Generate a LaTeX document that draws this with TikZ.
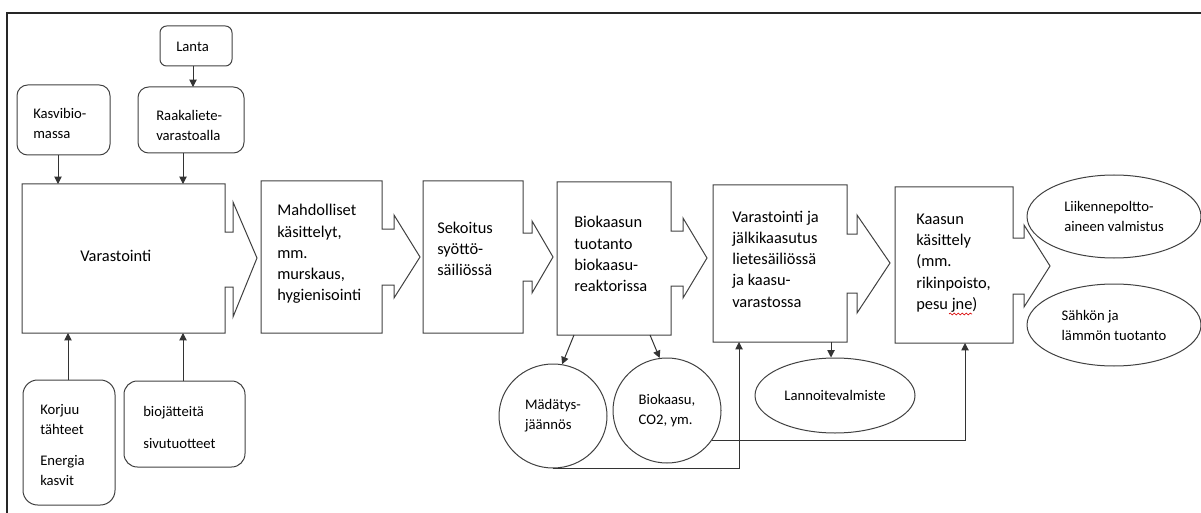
\documentclass[tikz,border=0pt]{standalone}
\usepackage{fontspec}
\setmainfont{Carlito}
\usetikzlibrary{arrows.meta,fit,shapes.geometric,decorations.pathmorphing}
\tikzset{
  lc/.style={draw=black!75, line width=0.75pt},
  area/.style={inner sep=0pt, outer sep=0pt},
  rbox/.style={area, lc, rounded corners=#1},
  ell/.style={ellipse, lc, inner sep=0pt, align=left, font=\smallfont},
  maintxt/.style={anchor=west, align=left, inner sep=0pt, font=\mainfont},
  smalltxt/.style={anchor=west, align=left, inner sep=0pt, font=\smallfont},
  arr/.style={draw=black!80, line width=0.75pt, -{Triangle[width=5.5pt,length=5.5pt]}},
}
\newcommand\mainfont{\fontsize{12.3pt}{15.9pt}\selectfont}
\newcommand\smallfont{\fontsize{11pt}{15pt}\selectfont}
% name, neck top y, neck bottom y, head x, head top y, head bottom y, tip x, tip y
\newcommand\callbox[8]{\draw[lc, line join=miter] (#1.north west) -- (#1.north east) -- (#1.east |- 0,#2) -- (#4,#2) -- (#4,#5) -- (#7,#8) -- (#4,#6) -- (#4,#3) -- (#1.east |- 0,#3) -- (#1.south east) -- (#1.south west) -- cycle;}
\begin{document}
\begin{tikzpicture}[x=0.75pt, y=-0.75pt]
\useasboundingbox (0,0) rectangle (1201,513);
% frame
\draw[black!85, line width=1.1pt] (7,520) -- (7,13) -- (1210,13);

% rounded input boxes
\node[rbox=5pt, fit={(160,26)(232,66)}] (lanta) {};
\node[smalltxt] (lantat) at (176,47) {Lanta};
\node[rbox=8pt, fit={(17,85)(110,155)}] (kasvi) {};
\node[smalltxt] (kasvit) at (33,123) {Kasvibio-\\massa};
\node[rbox=8pt, fit={(138,87)(244,153)}] (raaka) {};
\node[smalltxt] (raakat) at (156,125) {Raakaliete-\\varastoalla};
\node[rbox=11pt, fit={(23,380)(115,505)}] (korjuu) {};
\node[smalltxt] (korjuut) at (40,445) {Korjuu\\tähteet\\[8.5pt]Energia\\kasvit};
\node[rbox=10pt, fit={(124,381)(245,467)}] (bioj) {};
\node[smalltxt] (biojt) at (143,427) {biojätteitä\\[9pt]sivutuotteet};

% process boxes (callout arrows)
\node[area, fit={(22,184)(225,333)}] (var) {};
\callbox{var}{232}{287}{233}{202}{317}{257}{258}
\node[maintxt] (vart) at (80,256) {Varastointi};

\node[area, fit={(261,181)(382,333)}] (mah) {};
\callbox{mah}{229}{285}{394}{215}{298}{420}{257}
\node[maintxt] (maht) at (277,254) {Mahdolliset\\käsittelyt,\\mm.\\murskaus,\\hygienisointi};

\node[area, fit={(423,181)(523,333)}] (sek) {};
\callbox{sek}{233}{281}{532}{221}{293}{553}{257}
\node[maintxt] (sekt) at (437,249) {Sekoitus\\syöttö-\\säiliössä};

\node[area, fit={(557,182)(671,335)}] (bk) {};
\callbox{bk}{231}{286}{683}{218}{298}{707}{258}
\node[maintxt] (bkt) at (574,254) {Biokaasun\\tuotanto\\biokaasu-\\reaktorissa};

\node[area, fit={(713,185)(847,342)}] (varj) {};
\callbox{varj}{234}{293}{857}{215}{313}{890}{263}
\node[maintxt] (varjt) at (732,259) {Varastointi ja\\jälkikaasutus\\lietesäiliössä\\ja kaasu-\\varastossa};

\node[area, fit={(895,187)(1013,343)}] (kaa) {};
\callbox{kaa}{238}{294}{1024}{225}{307}{1050}{266}
\node[maintxt] (kaat) at (916,263) {Kaasun\\käsittely\\(mm.\\rikinpoisto,\\pesu jne)};
\draw[red!85!black, line width=0.5pt, decorate, decoration={snake, amplitude=0.7pt, segment length=3pt}] (949,314) -- (972,314);

% ellipses / circles
\node[ell, minimum width=81pt, minimum height=78pt] (mad) at (553,416) {Mädätys-\\jäännös};
\node[ell, minimum width=81pt, minimum height=78.75pt] (biok) at (667,410.5) {Biokaasu,\\CO2, ym.};
\node[ell, minimum width=120pt, minimum height=56.25pt] (lann) at (835,395.5) {Lannoitevalmiste};
\node[ell, minimum width=130.5pt, minimum height=62.25pt] (liik) at (1114,216.5) {Liikennepoltto-\\aineen valmistus};
\node[ell, minimum width=130.5pt, minimum height=61.5pt] (sahk) at (1114,325) {Sähkön ja\\lämmön tuotanto};

% connectors
\draw[arr] (lanta.south -| 193,0) -- (raaka.north -| 193,0);
\draw[arr] (kasvi.south -| 58,0) -- (var.north -| 58,0);
\draw[arr] (raaka.south -| 183,0) -- (var.north -| 183,0);
\draw[arr] (korjuu.north -| 68,0) -- (var.south -| 68,0);
\draw[arr] (bioj.north -| 183,0) -- (var.south -| 183,0);
\draw[arr] (bk.south -| 574,0) -- (mad.80);
\draw[arr] (bk.south -| 650,0) -- (biok.98);
\draw[arr] (varj.south -| 831,0) -- (lann.north -| 831,0);
\draw[arr] (mad.south) -| (varj.south -| 739,0);
\draw[arr] (biok.-34) -| (kaa.south -| 965,0);
\end{tikzpicture}
\end{document}
